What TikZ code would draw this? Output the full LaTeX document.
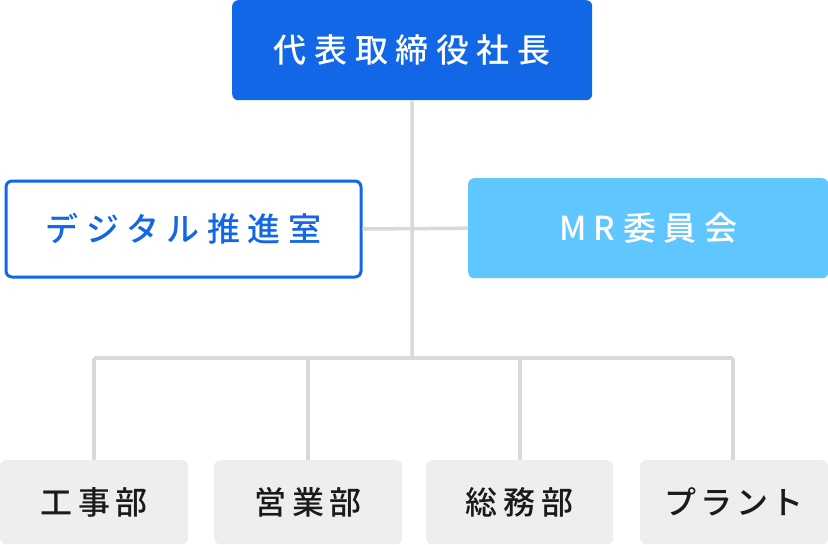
\documentclass[tikz,border=0pt]{standalone}
\usepackage{fontspec}
\newfontfamily\jpfont{Noto Sans CJK JP}[UprightFont={* Medium}]
\definecolor{topblue}{HTML}{1167E6}
\definecolor{lightblue}{HTML}{5FC6FE}
\definecolor{linegray}{HTML}{D9D9D9}
\definecolor{boxgray}{HTML}{EEEEEE}
\definecolor{textdark}{HTML}{1A1A1A}
\begin{document}
\begin{tikzpicture}[x=1pt,y=-1pt,
  box/.style={rectangle, rounded corners=6pt, inner sep=0pt, anchor=north west},
  conn/.style={draw=linegray, line width=3.5pt},
  topfont/.style={font=\jpfont\addfontfeature{LetterSpace=23}\fontsize{33}{34}\selectfont},
  midfont/.style={font=\jpfont\addfontfeature{LetterSpace=23}\fontsize{33}{34}\selectfont},
  botfont/.style={font=\jpfont\addfontfeature{LetterSpace=18}\fontsize{32}{34}\selectfont},
  dept/.style={box, fill=boxgray, minimum height=84pt, text=textdark, botfont}]
\useasboundingbox (0,0) rectangle (828,544);
% connector points
\coordinate (c2) at (412,358);
\coordinate (b1) at (94,358);
\coordinate (b2) at (308,358);
\coordinate (b3) at (520,358);
\coordinate (b4) at (733,358);
% nodes
\node[box, fill=topblue, minimum width=360pt, minimum height=100pt, text=white, topfont] (ceo) at (232,0) {代表取締役社長};
\node[box, draw=topblue, line width=3pt, fill=white, minimum width=355pt, minimum height=96pt, text=topblue, midfont] (dx) at (4.5,179.5) {デジタル推進室};
\node[box, fill=lightblue, minimum width=360pt, minimum height=100pt, text=white, midfont] (mr) at (468,178) {MR委員会};
\node[dept, minimum width=188pt] (d1) at (0,460) {工事部};
\node[dept, minimum width=188pt] (d2) at (214,460) {営業部};
\node[dept, minimum width=187pt] (d3) at (426,460) {総務部};
\node[dept, minimum width=188pt, font=\jpfont\addfontfeature{LetterSpace=12}\fontsize{32}{34}\selectfont] (d4) at (640,460) {プラント};
% connectors
\draw[conn] (ceo.south) -- (c2);
\draw[conn] (dx.east) -- (mr.west);
\draw[conn] (b1) -- (b4);
\draw[conn] (b1) -- (d1.north -| b1);
\draw[conn] (b2) -- (d2.north -| b2);
\draw[conn] (b3) -- (d3.north -| b3);
\draw[conn] (b4) -- (d4.north -| b4);
\end{tikzpicture}
\end{document}
